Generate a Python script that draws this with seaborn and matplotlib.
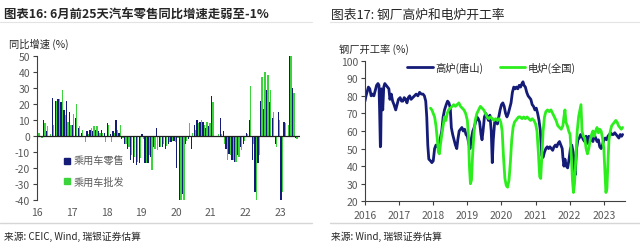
import numpy as np
import pandas as pd
import matplotlib
matplotlib.use("Agg")
import matplotlib.pyplot as plt
from matplotlib.lines import Line2D
import seaborn as sns

sns.set_theme(style="white")
plt.rcParams['font.family'] = ['Noto Sans CJK SC', 'DejaVu Sans']
plt.rcParams['axes.unicode_minus'] = False

# ---------------- Left chart data (monthly YoY %, Jan 2016 - Jun 2023) ----------------
year_labels = ["16", "17", "18", "19", "20", "21", "22", "23"]
retail = [15, 0, 10, 3, 0, 24, 22, 23, 21, 16, 22, 15,
          7, 11, 5, 2, 0, 3, 4, 3, 4, 3, 4, 2,
          8, 1, 3, 10, 2, -2, -5, -8, -15, -17, -18, -17,
          1, -17, -17, -13, -7, 5, -7, -7, -8, -5, -4, -3,
          -20, -40, -36, -5, -2, -8, 7, 10, 9, 9, 5, 6,
          25, 0, 0, 11, 3, -8, -11, -15, -16, -12, -7, -5,
          2, 10, -15, -35, -17, 22, 17, 29, 21, 11, -5, 15,
          -40, 9, 0, 50, 30, -1]
wholesale = [2, -1, 8, 6, 1, 7, 22, 23, 29, 13, 9, 7,
             14, 20, 6, 4, -4, 1, 5, 6, 6, 2, 2, -4,
             7, -4, 2, 4, 7, -1, -5, -7, -12, -13, -16, -14,
             -2, -17, -12, -21, -8, -9, -7, -5, -6, -4, -3, -4,
             -1, -40, -40, -3, 8, 2, 4, 8, 10, 7, 9, 8,
             21, 0, 1, 1, -5, -15, -12, -15, -16, -13, -9, -3,
             1, 31, -5, -40, -12, 37, 40, 38, 29, 15, -7, 10,
             -35, 8, 7, 50, 27, -2]
bar_series = ["乘用车零售", "乘用车批发"]

# ---------------- Right chart data (operating rate %) ----------------
bf_t = [2016.00, 2016.03, 2016.07, 2016.10, 2016.14, 2016.18, 2016.22, 2016.26, 2016.30, 2016.34,
        2016.38, 2016.41, 2016.43, 2016.45, 2016.46, 2016.48, 2016.50, 2016.52, 2016.55, 2016.58,
        2016.62, 2016.66, 2016.70, 2016.73, 2016.77, 2016.81, 2016.85, 2016.90, 2016.94, 2016.98,
        2017.03, 2017.07, 2017.11, 2017.15, 2017.19, 2017.23, 2017.27, 2017.31, 2017.35, 2017.40,
        2017.45, 2017.50, 2017.55, 2017.60, 2017.65, 2017.70, 2017.74, 2017.78, 2017.81, 2017.84,
        2017.87, 2017.92, 2017.96,
        2018.00, 2018.04, 2018.08, 2018.12, 2018.17, 2018.21, 2018.25, 2018.29, 2018.33, 2018.38,
        2018.42, 2018.46, 2018.50, 2018.53, 2018.57, 2018.61, 2018.65, 2018.69, 2018.72, 2018.76,
        2018.80, 2018.84, 2018.88, 2018.92, 2018.96,
        2019.00, 2019.04, 2019.08, 2019.12, 2019.16, 2019.20, 2019.24, 2019.28, 2019.32, 2019.36,
        2019.40, 2019.43, 2019.46, 2019.50, 2019.54, 2019.58, 2019.62, 2019.66, 2019.70, 2019.73,
        2019.76, 2019.80, 2019.84, 2019.88, 2019.92, 2019.96,
        2020.00, 2020.04, 2020.08, 2020.12, 2020.16, 2020.20, 2020.24, 2020.28, 2020.32, 2020.36,
        2020.40, 2020.44, 2020.48, 2020.52, 2020.56, 2020.60, 2020.63, 2020.66, 2020.70, 2020.74,
        2020.78, 2020.82, 2020.86, 2020.90, 2020.94, 2020.98,
        2021.02, 2021.06, 2021.10, 2021.14, 2021.18, 2021.22, 2021.26, 2021.30, 2021.34, 2021.38,
        2021.42, 2021.46, 2021.50, 2021.54, 2021.58, 2021.62, 2021.66, 2021.70, 2021.74, 2021.78,
        2021.80, 2021.83, 2021.86, 2021.90, 2021.94, 2021.98,
        2022.02, 2022.06, 2022.10, 2022.13, 2022.16, 2022.20, 2022.24, 2022.28, 2022.32, 2022.36,
        2022.40, 2022.44, 2022.48, 2022.52, 2022.56, 2022.60, 2022.64, 2022.68, 2022.72, 2022.76,
        2022.80, 2022.84, 2022.88, 2022.92, 2022.96,
        2023.00, 2023.04, 2023.08, 2023.12, 2023.16, 2023.20, 2023.24, 2023.28, 2023.32, 2023.36,
        2023.40, 2023.44, 2023.48, 2023.52, 2023.55]
bf_v = [77, 80, 83, 85, 84, 80, 81, 80, 83, 86,
        87, 86, 70, 51, 52, 84, 80, 72, 85, 87,
        86, 85, 84, 78, 81, 77, 75, 72, 75, 78,
        79, 77, 77, 79, 78, 76, 79, 80, 78, 79,
        80, 81, 80, 82, 81, 81, 80, 77, 68, 52,
        44, 43, 42,
        43, 50, 52, 51, 52, 56, 60, 68, 72, 75,
        77, 76, 73, 62, 58, 55, 52, 50, 55, 60,
        61, 62, 60, 61, 58,
        57, 53, 50, 56, 60, 62, 65, 68, 67, 65,
        58, 55, 60, 68, 70, 68, 66, 69, 60, 42,
        55, 65, 66, 64, 68, 72,
        75, 76, 74, 70, 68, 70, 73, 76, 82, 85,
        84, 85, 84, 86, 85, 87, 88, 86, 85, 82,
        80, 79, 78, 75, 74, 72,
        73, 70, 66, 60, 46, 45, 48, 50, 51, 50,
        51, 50, 49, 51, 52, 51, 53, 54, 52, 50,
        45, 40, 44, 40, 39, 44,
        50, 52, 48, 40, 35, 50, 55, 56, 58, 57,
        55, 54, 57, 53, 57, 56, 55, 54, 58, 56,
        54, 55, 51, 50, 52,
        55, 56, 55, 57, 58, 59, 58, 58, 59, 58,
        57, 56, 58, 57, 58]

ef_t = [2017.92, 2017.96,
        2018.00, 2018.04, 2018.08, 2018.12, 2018.15, 2018.18, 2018.21, 2018.25, 2018.29, 2018.33,
        2018.37, 2018.41, 2018.45, 2018.50, 2018.55, 2018.60, 2018.65, 2018.70, 2018.75, 2018.80,
        2018.85, 2018.90, 2018.95,
        2019.00, 2019.03, 2019.06, 2019.09, 2019.12, 2019.15, 2019.19, 2019.23, 2019.28, 2019.33,
        2019.38, 2019.43, 2019.48, 2019.53, 2019.58, 2019.63, 2019.68, 2019.73, 2019.78, 2019.83,
        2019.88, 2019.93, 2019.98,
        2020.02, 2020.06, 2020.10, 2020.14, 2020.18, 2020.22, 2020.26, 2020.30, 2020.34, 2020.38,
        2020.42, 2020.46, 2020.50, 2020.55, 2020.60, 2020.65, 2020.70, 2020.75, 2020.80, 2020.85,
        2020.90, 2020.95,
        2021.00, 2021.04, 2021.08, 2021.12, 2021.15, 2021.18, 2021.22, 2021.26, 2021.30, 2021.35,
        2021.40, 2021.45, 2021.50, 2021.55, 2021.60, 2021.65, 2021.70, 2021.75, 2021.80, 2021.83,
        2021.86, 2021.89, 2021.93, 2021.97,
        2022.01, 2022.05, 2022.08, 2022.11, 2022.14, 2022.18, 2022.22, 2022.26, 2022.30, 2022.33,
        2022.36, 2022.40, 2022.44, 2022.48, 2022.52, 2022.56, 2022.60, 2022.64, 2022.68, 2022.72,
        2022.76, 2022.80, 2022.84, 2022.88, 2022.92, 2022.96,
        2023.00, 2023.03, 2023.06, 2023.09, 2023.12, 2023.15, 2023.19, 2023.23, 2023.27, 2023.31,
        2023.35, 2023.39, 2023.43, 2023.47, 2023.51, 2023.55]
ef_v = [73, 72,
        70, 68, 63, 55, 48, 47, 52, 58, 63, 68,
        66, 70, 72, 73, 74, 75, 74, 75, 76, 74,
        73, 72, 70,
        66, 58, 40, 30, 32, 45, 58, 66, 70, 72,
        74, 73, 72, 70, 68, 67, 68, 67, 66, 67,
        66, 67, 65,
        60, 45, 33, 29, 28, 32, 42, 55, 62, 65,
        66, 67, 68, 68, 67, 68, 67, 68, 67, 66,
        67, 66,
        64, 60, 48, 34, 33, 45, 60, 68, 71, 72,
        71, 72, 70, 68, 66, 63, 62, 61, 63, 68,
        72, 65, 63, 60,
        58, 45, 32, 25, 30, 45, 60, 68, 72, 75,
        60, 57, 56, 50, 47, 50, 55, 58, 60, 57,
        60, 62, 59, 61, 60, 56,
        50, 38, 25, 27, 42, 55, 60, 63, 64, 65,
        66, 65, 63, 62, 61, 62]
line_series = ["高炉(唐山)", "电炉(全国)"]

NAVY = "#141C78"
GREEN_BAR = "#3CD43C"
GREEN_LINE = "#2BEE1C"
TICK_C = "#595959"
TEXT_C = "#262626"

W, H = 640, 251
fig = plt.figure(figsize=(6.4, 2.51), dpi=100)
fig.patch.set_facecolor("white")


def fx(px):
    return px / W


def fy(py):
    return 1 - py / H


# ---------------- Left chart ----------------
axL = fig.add_axes([fx(37), fy(201), fx(300) - fx(37), fy(57) - fy(201)])
n = len(retail)
df_bar = pd.DataFrame({
    "month": list(range(n)) * 2,
    "value": retail + wholesale,
    "series": [bar_series[0]] * n + [bar_series[1]] * n,
})
sns.barplot(data=df_bar, x="month", y="value", hue="series", hue_order=bar_series,
            palette=[NAVY, GREEN_BAR], width=0.88, dodge=True, saturation=1,
            linewidth=0, legend=False, ax=axL)
axL.set_xlim(-0.5, n + 0.3)
axL.set_ylim(-40, 50)
axL.axhline(0, color="#202020", lw=0.9, zorder=3)
axL.set_xticks([-0.5 + 12 * k for k in range(len(year_labels))])
axL.set_xticklabels(year_labels)
axL.set_yticks(range(-40, 51, 10))
axL.set_yticklabels([str(v) for v in range(-40, 51, 10)])
axL.tick_params(axis="x", length=0, pad=5, labelsize=7.5, labelcolor=TICK_C)
axL.tick_params(axis="y", length=3, width=0.8, color="#404040", pad=2, labelsize=7.5,
                labelcolor=TICK_C, left=True)
axL.set_xlabel("")
axL.set_ylabel("")
for s in ["top", "right", "bottom"]:
    axL.spines[s].set_visible(False)
axL.spines["left"].set_color("#404040")
axL.spines["left"].set_linewidth(0.8)

handlesL = [Line2D([], [], marker="s", linestyle="", markersize=4.2, color=c)
            for c in [NAVY, GREEN_BAR]]
axL.legend(handlesL, bar_series, loc="upper left", bbox_to_anchor=(fx(58), fy(152)),
           bbox_transform=fig.transFigure, frameon=False, fontsize=7.3,
           handlelength=0.7, handletextpad=0.3, labelspacing=1.0, borderpad=0,
           labelcolor=TICK_C)

# ---------------- Right chart ----------------
axR = fig.add_axes([fx(365), fy(202.3), fx(625) - fx(365), fy(61.7) - fy(202.3)])
df_bf = pd.DataFrame({"t": bf_t, "v": bf_v})
df_ef = pd.DataFrame({"t": ef_t, "v": ef_v})
sns.lineplot(data=df_bf, x="t", y="v", color=NAVY, linewidth=2.0, ax=axR, label=line_series[0])
sns.lineplot(data=df_ef, x="t", y="v", color=GREEN_LINE, linewidth=2.0, ax=axR, label=line_series[1])
axR.set_xlim(2016, 2023.62)
axR.set_ylim(20, 100)
axR.set_xticks(range(2016, 2024))
axR.set_xticklabels([str(y) for y in range(2016, 2024)])
axR.set_yticks(range(20, 101, 10))
axR.tick_params(axis="x", length=3, width=0.8, color="#404040", pad=3, labelsize=7.5,
                labelcolor=TICK_C, bottom=True)
axR.tick_params(axis="y", length=3, width=0.8, color="#404040", pad=2, labelsize=7.5,
                labelcolor=TICK_C, left=True)
axR.set_xlabel("")
axR.set_ylabel("")
for s in ["top", "right"]:
    axR.spines[s].set_visible(False)
for s in ["left", "bottom"]:
    axR.spines[s].set_color("#404040")
    axR.spines[s].set_linewidth(0.8)
axR.legend(loc="center left", bbox_to_anchor=(fx(407), fy(68)), bbox_transform=fig.transFigure,
           ncol=2, frameon=False, fontsize=7.4, handlelength=2.5, handletextpad=0.25,
           columnspacing=1.6, borderpad=0, borderaxespad=0, labelcolor=TEXT_C)

# ---------------- Texts & rules ----------------
fig.text(fx(4), fy(15), "图表16: 6月前25天汽车零售同比增速走弱至-1%", fontsize=8.9,
         fontweight="bold", color=TEXT_C, va="center", ha="left")
fig.text(fx(331), fy(15), "图表17: 钢厂高炉和电炉开工率", fontsize=9.2,
         color=TEXT_C, va="center", ha="left")
fig.text(fx(9), fy(44), "同比增速 (%)", fontsize=7.4, color=TEXT_C, va="center", ha="left")
fig.text(fx(339), fy(50), "钢厂开工率 (%)", fontsize=7.4, color=TEXT_C, va="center", ha="left")
fig.text(fx(4), fy(237), "来源: CEIC, Wind, 瑞银证券估算", fontsize=7.0, color=TEXT_C,
         va="center", ha="left")
fig.text(fx(331), fy(237), "来源: Wind, 瑞银证券估算", fontsize=7.0, color=TEXT_C,
         va="center", ha="left")
for (x0, x1) in [(0, 312), (330, 640)]:
    fig.add_artist(Line2D([fx(x0), fx(x1)], [fy(23), fy(23)], color="#e3e3e3", lw=0.8,
                          transform=fig.transFigure))
    fig.add_artist(Line2D([fx(x0), fx(x1)], [fy(224), fy(224)], color="#d6d6d6", lw=1.0,
                          transform=fig.transFigure))

fig.savefig("out.png", dpi=100, facecolor="white")
